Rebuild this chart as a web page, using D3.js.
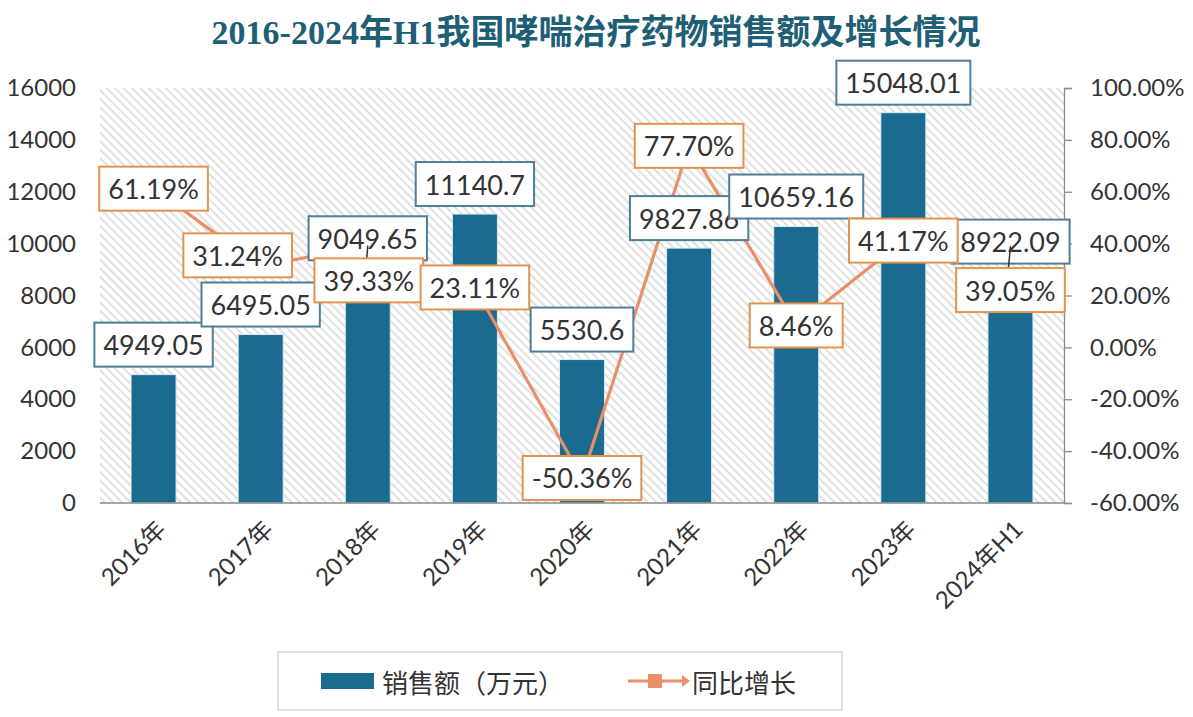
<!DOCTYPE html>
<html><head><meta charset="utf-8">
<script src="https://cdn.jsdelivr.net/npm/d3@7"></script>
<style>body{margin:0;background:#fff;}svg{display:block;}</style>
</head><body>
<svg id="chart" width="1193" height="717"></svg>
<script>
const categories = ["2016年","2017年","2018年","2019年","2020年","2021年","2022年","2023年","2024年H1"];
const sales = [4949.05, 6495.05, 9049.65, 11140.7, 5530.6, 9827.86, 10659.16, 15048.01, 8922.09];
const salesLabels = ["4949.05","6495.05","9049.65","11140.7","5530.6","9827.86","10659.16","15048.01","8922.09"];
const growth = [61.19, 31.24, 39.33, 23.11, -50.36, 77.70, 8.46, 41.17, 39.05];
const leftTicks = [0,2000,4000,6000,8000,10000,12000,14000,16000];
const rightTicks = [-60,-40,-20,0,20,40,60,80,100];
const title = "2016-2024年H1我国哮喘治疗药物销售额及增长情况";
const seriesNames = ["销售额（万元）","同比增长"];

// layout (label nudges for growth labels, in px)
const pctNudge = [[0,0],[-23,-11],[1,35],[0,0],[0,0],[0,0],[0,0],[0,0],[0,44]];

const W = 1193, H = 717;
const m = {left:100, right:1064, top:88, bottom:503};
const svg = d3.select("#chart");
const numFont = "Lato, 'Open Sans', sans-serif";

const defs = svg.append("defs");
const pat = defs.append("pattern").attr("id","hatch").attr("patternUnits","userSpaceOnUse")
  .attr("width",6).attr("height",6).attr("patternTransform","rotate(-45)");
pat.append("rect").attr("width",6).attr("height",6).attr("fill","#ffffff");
pat.append("rect").attr("x",0).attr("y",0).attr("width",2).attr("height",6).attr("fill","#e0e0e0");

// title
svg.append("text").attr("x",596).attr("y",44).attr("text-anchor","middle")
  .attr("font-family","'Liberation Serif','Noto Sans CJK SC',serif").attr("font-weight","bold")
  .attr("font-size",34).attr("fill","#1f5f76").text(title);

// plot background
svg.append("rect").attr("x",m.left).attr("y",m.top).attr("width",m.right-m.left).attr("height",m.bottom-m.top)
  .attr("fill","url(#hatch)");

const x = d3.scaleBand().domain(categories).range([m.left,m.right]).paddingInner(0.58).paddingOuter(0.29);
const yL = d3.scaleLinear().domain([0,16000]).range([m.bottom,m.top]);
const yR = d3.scaleLinear().domain([-60,100]).range([m.bottom,m.top]);
const cx = c => x(c) + x.bandwidth()/2;

// left axis (labels only)
const gL = svg.append("g").attr("transform",`translate(${m.left},0)`)
  .call(d3.axisLeft(yL).tickValues(leftTicks).tickSize(0).tickPadding(24).tickFormat(d3.format("d")));
gL.select(".domain").remove();
gL.selectAll("text").attr("font-family",numFont).attr("font-size",24).attr("fill","#333");

// right axis
const gR = svg.append("g").attr("transform",`translate(${m.right},0)`)
  .call(d3.axisRight(yR).tickValues(rightTicks).tickSize(8).tickSizeOuter(8).tickPadding(18).tickFormat(d => d.toFixed(2)+"%"));
gR.select(".domain").attr("stroke","#8a8a8a").attr("stroke-width",1.3);
gR.selectAll(".tick line").attr("stroke","#8a8a8a").attr("stroke-width",1.3);
gR.selectAll("text").attr("font-family",numFont).attr("font-size",24).attr("fill","#333");

// bars
svg.append("g").selectAll("rect").data(sales).join("rect")
  .attr("x",(d,i)=>x(categories[i])).attr("width",x.bandwidth())
  .attr("y",d=>yL(d)).attr("height",d=>yL(0)-yL(d))
  .attr("fill","#1b6a90").attr("stroke","#d5ecf5").attr("stroke-width",1);

// baseline
svg.append("line").attr("x1",m.left).attr("x2",m.right).attr("y1",yL(0)).attr("y2",yL(0))
  .attr("stroke","#8a8a8a").attr("stroke-width",1.5);

// x labels
const gX = svg.append("g").attr("transform",`translate(0,${m.bottom})`)
  .call(d3.axisBottom(x).tickSize(0).tickPadding(0));
gX.select(".domain").remove();
gX.selectAll(".tick text")
  .attr("font-family","Lato,'Noto Sans CJK SC',sans-serif").attr("font-size",24).attr("fill","#333")
  .attr("text-anchor","end").attr("dy",0).attr("y",0)
  .attr("transform","translate(14,28) rotate(-45)");

// growth line
const line = d3.line().x((d,i)=>cx(categories[i])).y(d=>yR(d));
svg.append("path").datum(growth).attr("d",line).attr("fill","none")
  .attr("stroke","#e8906a").attr("stroke-width",3.2).attr("stroke-linejoin","round");

// value labels for bars
const boxH = 44;
function labelBox(g, cxp, cyp, txt, stroke){
  const t = g.append("text").attr("x",cxp).attr("y",cyp).attr("text-anchor","middle").attr("dominant-baseline","central")
    .attr("font-family",numFont).attr("font-size",27).attr("fill","#333").text(txt);
  const w = t.node().getComputedTextLength() + 18;
  g.insert("rect","text").attr("x",cxp-w/2).attr("y",cyp-boxH/2).attr("width",w).attr("height",boxH)
    .attr("fill","#ffffff").attr("stroke",stroke).attr("stroke-width",2);
}
sales.forEach((v,i)=>{
  const g = svg.append("g");
  labelBox(g, cx(categories[i]), yL(v) - 8 - boxH/2, salesLabels[i], "#4d7f96");
});

// growth labels
growth.forEach((v,i)=>{
  const px = cx(categories[i]), py = yR(v);
  const lx = px + pctNudge[i][0], ly = py + pctNudge[i][1];
  if (Math.abs(pctNudge[i][1]) > boxH/2) {
    svg.append("line").attr("x1",px).attr("y1",py).attr("x2",lx-2).attr("y2",ly-boxH/2)
      .attr("stroke","#333").attr("stroke-width",1.5);
  }
  const g = svg.append("g");
  labelBox(g, lx, ly, v.toFixed(2)+"%", "#e3934f");
});

// legend
const lg = svg.append("g");
lg.append("rect").attr("x",278).attr("y",652).attr("width",564).attr("height",58)
  .attr("fill","none").attr("stroke","#d9d9d9").attr("stroke-width",1.5);
lg.append("rect").attr("x",321).attr("y",673).attr("width",53).attr("height",16).attr("fill","#1b6a90");
lg.append("text").attr("x",382).attr("y",681).attr("dominant-baseline","central")
  .attr("font-family","'Noto Sans CJK SC',sans-serif").attr("font-size",26).attr("fill","#333").text(seriesNames[0]);
lg.append("line").attr("x1",628).attr("x2",686).attr("y1",681).attr("y2",681).attr("stroke","#e8906a").attr("stroke-width",3.2);
lg.append("rect").attr("x",648).attr("y",674).attr("width",14).attr("height",14).attr("fill","#e8906a");
lg.append("path").attr("d","M682,675 L690,681 L682,687 Z").attr("fill","#e8906a");
lg.append("text").attr("x",692).attr("y",681).attr("dominant-baseline","central")
  .attr("font-family","'Noto Sans CJK SC',sans-serif").attr("font-size",26).attr("fill","#333").text(seriesNames[1]);
</script>
</body></html>
